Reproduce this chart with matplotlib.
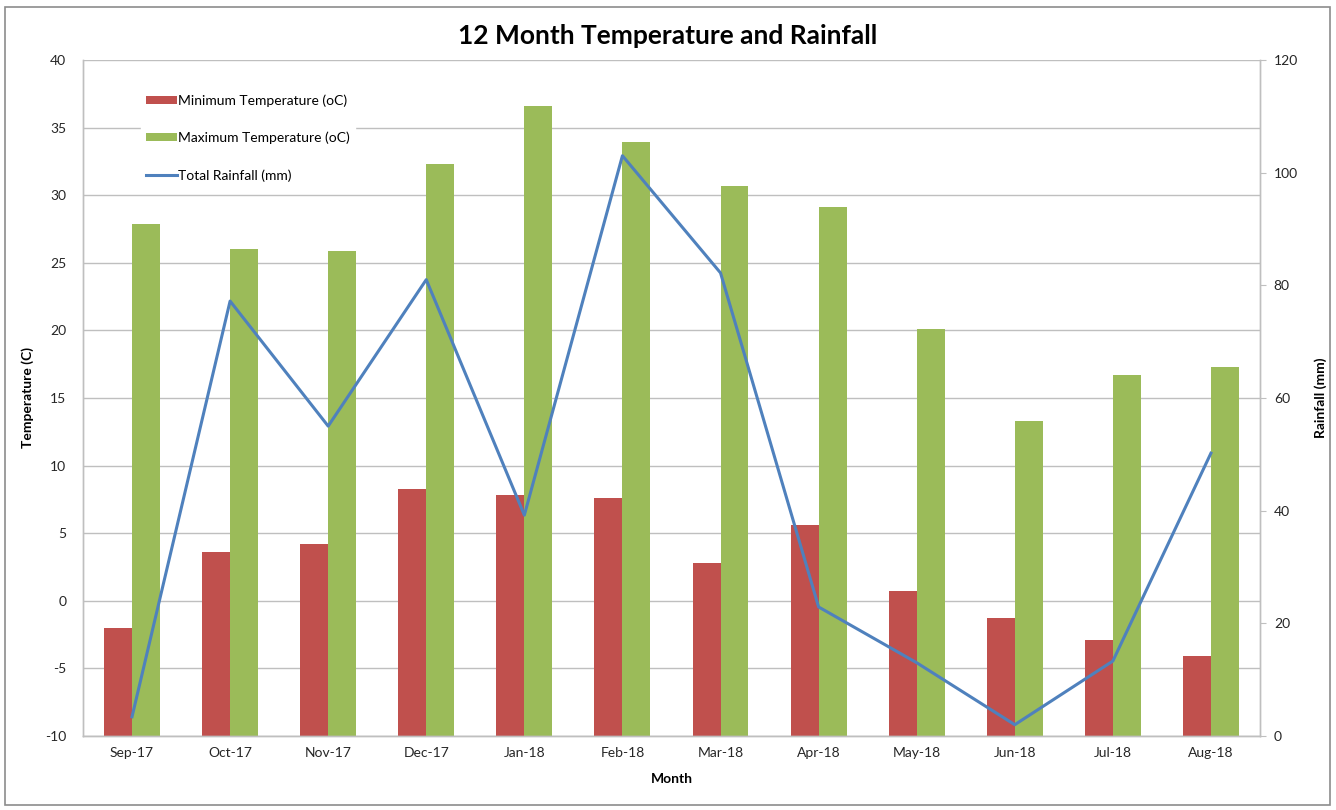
import numpy as np
import matplotlib.pyplot as plt
from matplotlib.patches import Rectangle

# dane
months = ["Sep-17", "Oct-17", "Nov-17", "Dec-17", "Jan-18", "Feb-18",
          "Mar-18", "Apr-18", "May-18", "Jun-18", "Jul-18", "Aug-18"]
min_temp = [-2.0, 3.6, 4.2, 8.3, 7.8, 7.6, 2.8, 5.6, 0.7, -1.3, -2.9, -4.1]
max_temp = [27.9, 26.0, 25.9, 32.3, 36.6, 33.9, 30.7, 29.1, 20.1, 13.3, 16.7, 17.3]
rainfall = [3.4, 77.2, 55.0, 81.0, 39.2, 103.0, 82.2, 22.9, 13.0, 2.0, 13.3, 50.2]

RED = "#C0504D"
GREEN = "#9BBB59"
BLUE = "#4F81BD"
GRID = "#BFBFBF"
BASE = -10  # słupki rysowane od dołu osi, jak w Excelu

plt.rcParams["font.family"] = ["Lato", "DejaVu Sans"]
plt.rcParams["axes.unicode_minus"] = False

fig = plt.figure(figsize=(13.36, 8.10), dpi=100)
ax = fig.add_axes([0.0621, 0.0914, 0.8810, 0.8346])

# ramka wokół całego wykresu
fig.patches.append(Rectangle((5 / 1336, 5 / 810), 1325 / 1336, 798 / 810,
                             transform=fig.transFigure, fill=False,
                             edgecolor="#8C8C8C", linewidth=1.2))

x = np.arange(len(months))
w = 0.285
bars_min = ax.bar(x - w / 2, np.array(min_temp) - BASE, width=w, bottom=BASE,
                  color=RED, label="Minimum Temperature (oC)", zorder=2)
bars_max = ax.bar(x + w / 2, np.array(max_temp) - BASE, width=w, bottom=BASE,
                  color=GREEN, label="Maximum Temperature (oC)", zorder=2)

ax.set_xlim(-0.5, len(months) - 0.5)
ax.set_ylim(-10, 40)
ax.set_yticks(range(-10, 41, 5))
ax.set_xticks(x)
ax.set_xticklabels(months)
ax.yaxis.grid(True, color=GRID, linewidth=1.0, zorder=0)
ax.set_axisbelow(True)

ax2 = ax.twinx()
line, = ax2.plot(x, rainfall, color=BLUE, linewidth=2.2, label="Total Rainfall (mm)", zorder=3)
ax2.set_ylim(0, 120)
ax2.set_yticks(range(0, 121, 20))
ax2.patch.set_visible(False)

for a in (ax, ax2):
    for s in a.spines.values():
        s.set_color(GRID)
        s.set_linewidth(1.0)
    a.spines["top"].set_visible(False)
    a.tick_params(labelsize=10, colors="#262626", length=4, color=GRID)
ax.tick_params(axis="y", length=0, pad=12)
ax.tick_params(axis="x", length=0, pad=8)
ax2.tick_params(axis="y", pad=6)

ax.set_xlabel("Month", fontsize=10, fontweight="bold", labelpad=10)
ax.set_ylabel("Temperature (C)", fontsize=10, fontweight="bold", labelpad=8)
ax2.set_ylabel("Rainfall (mm)", fontsize=10, fontweight="bold", rotation=90, labelpad=12)

fig.suptitle("12 Month Temperature and Rainfall", fontsize=19, fontweight="bold",
             y=0.97)

handles = [bars_min, bars_max, line]
labels = [h.get_label() for h in handles]
leg = ax2.legend(handles, labels, loc="upper left", bbox_to_anchor=(0.043, 0.968),
                 frameon=True, fontsize=10, labelspacing=1.8, handlelength=2.2,
                 handleheight=0.5, handletextpad=0.1, borderpad=0.4)
leg.get_frame().set_edgecolor("white")
leg.get_frame().set_facecolor("white")
leg.get_frame().set_alpha(1.0)

fig.savefig("out.png", dpi=100)
